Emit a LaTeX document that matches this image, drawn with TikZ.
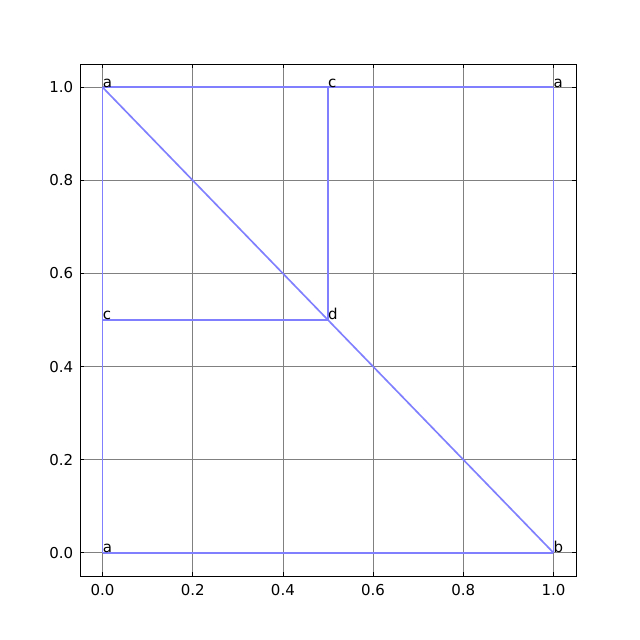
\documentclass[tikz,border=0pt]{standalone}
\usepackage{fontspec}
\setmainfont{DejaVu Sans}
\definecolor{edgeblue}{RGB}{128,128,255}
\tikzset{
  gridline/.style={gray,line width=0.6pt},
  edgeline/.style={edgeblue,line width=1.5pt},
  tickmark/.style={black,line width=0.6pt},
  vlabel/.style={anchor=base west,inner sep=0pt,font=\fontsize{13.5}{16}\selectfont},
  ticklabel/.style={inner sep=0pt,font=\fontsize{13.5}{16}\selectfont}
}
\begin{document}
\begin{tikzpicture}[x=405.8pt,y=418.9pt]
\useasboundingbox (-92.3pt,-78.55pt) rectangle (483.7pt,497.45pt);
% grid
\foreach \t in {0.0,0.2,0.4,0.6,0.8,1.0} {
  \draw[gridline] (\t,-0.05) -- (\t,1.05);
  \draw[gridline] (-0.05,\t) -- (1.05,\t);
}
% ticks and labels
\foreach \t in {0.0,0.2,0.4,0.6,0.8,1.0} {
  \draw[tickmark] (\t,-0.05) -- ++(0,3.6pt);
  \draw[tickmark] (\t,1.05) -- ++(0,-3.6pt);
  \draw[tickmark] (-0.05,\t) -- ++(3.6pt,0);
  \draw[tickmark] (1.05,\t) -- ++(-3.6pt,0);
  \node[ticklabel,anchor=north] at ([yshift=-7pt]\t,-0.05) {\t};
  \node[ticklabel,anchor=east] at ([xshift=-6pt]-0.05,\t) {\t};
}
% points
\coordinate (a1) at (0,1);
\coordinate (c1) at (0.5,1);
\coordinate (a2) at (1,1);
\coordinate (c2) at (0,0.5);
\coordinate (d) at (0.5,0.5);
\coordinate (a3) at (0,0);
\coordinate (b) at (1,0);
% edges
\draw[edgeline] (a1) -- (b);
\draw[edgeline] (a3) -- (b);
\draw[edgeline] (a3) -- (a1);
\draw[edgeline] (a1) -- (c1);
\draw[edgeline] (c1) -- (a2);
\draw[edgeline] (b) -- (a2);
\draw[edgeline] (c2) -- (d);
\draw[edgeline] (d) -- (c1);
% labels
\node[vlabel] (la1) at (a1) {a};
\node[vlabel] (lc1) at (c1) {c};
\node[vlabel] (la2) at (a2) {a};
\node[vlabel] (lc2) at (c2) {c};
\node[vlabel] (ld) at (d) {d};
\node[vlabel] (la3) at (a3) {a};
\node[vlabel] (lb) at (b) {b};
% frame
\draw[black,line width=0.8pt] (-0.05,-0.05) rectangle (1.05,1.05);
\end{tikzpicture}
\end{document}
